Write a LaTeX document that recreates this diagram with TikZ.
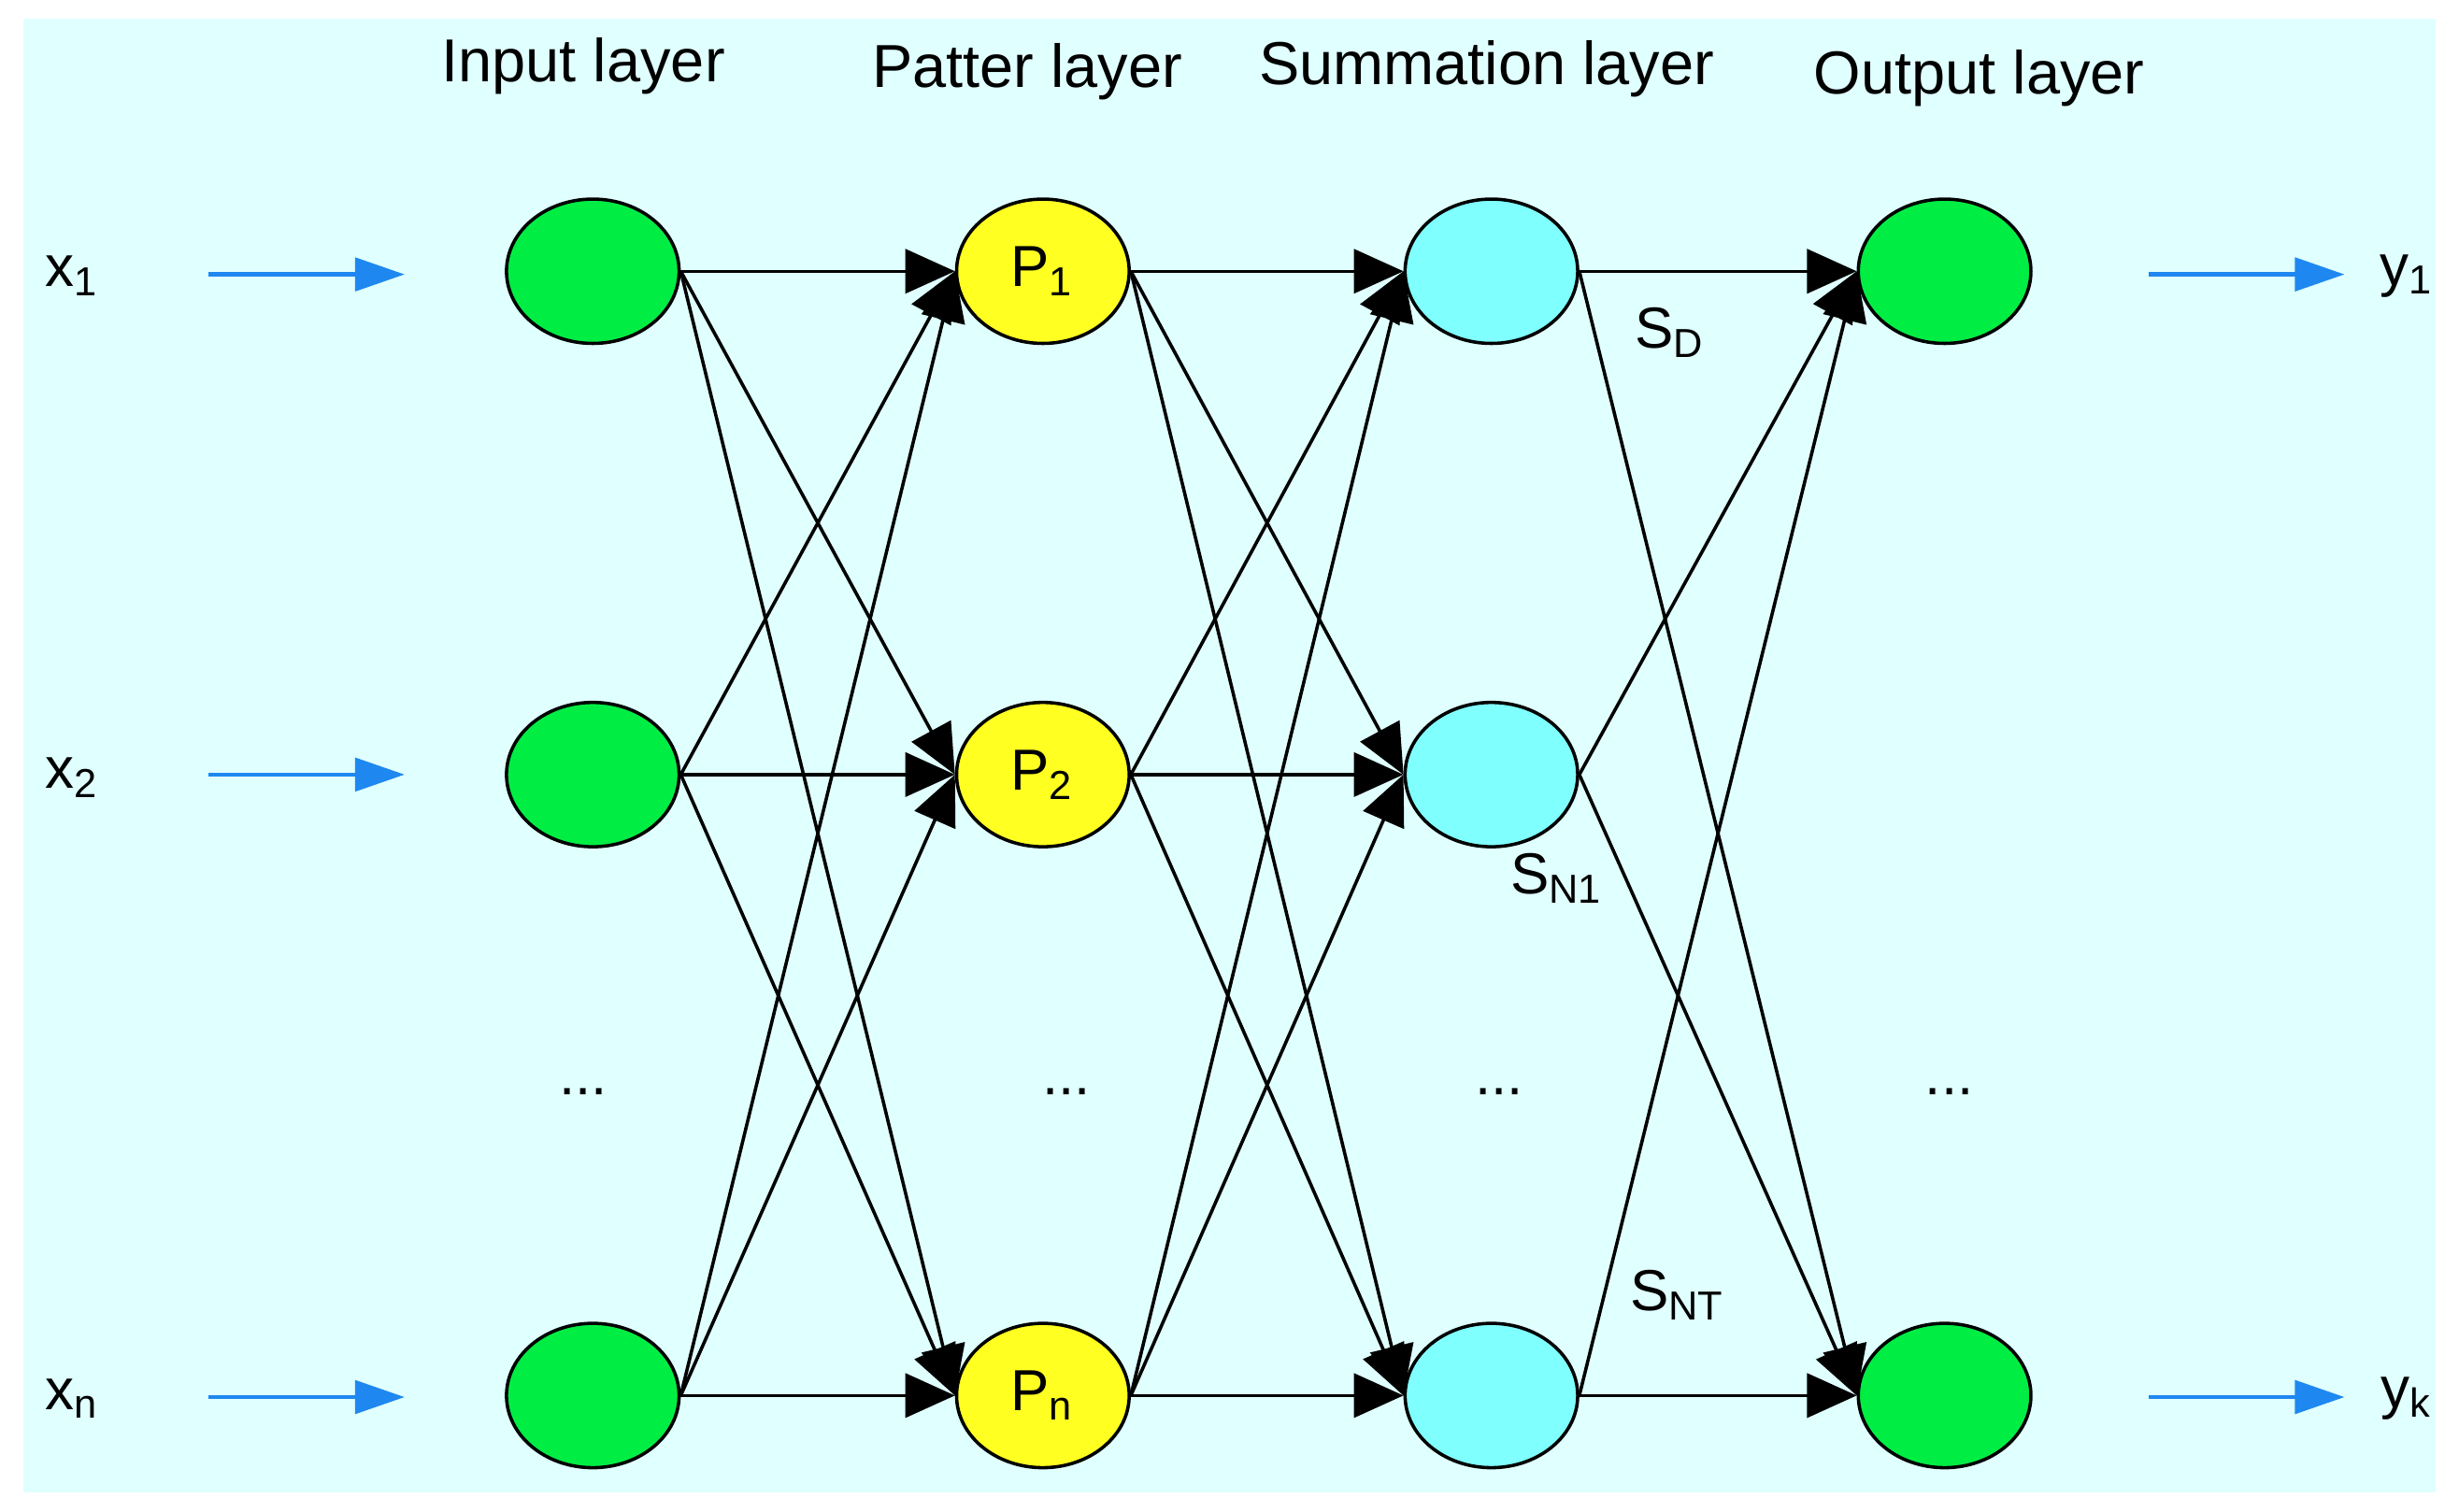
\documentclass[tikz,border=0pt]{standalone}
\usepackage{fontspec}
\setmainfont{Liberation Sans}
\usetikzlibrary{arrows.meta,shapes.geometric}
\definecolor{bg}{HTML}{E0FFFF}
\definecolor{ngreen}{HTML}{00EE44}
\definecolor{nyellow}{HTML}{FFFF22}
\definecolor{ncyan}{HTML}{80FFFF}
\definecolor{arrblue}{HTML}{1E88F0}
\begin{document}
\begin{tikzpicture}[x=0.01cm,y=-0.01cm,
  neur/.style={draw=black,line width=0.6pt,ellipse,minimum width=1.1cm,minimum height=0.92cm,inner sep=0pt,font=\fontsize{10.5}{13}\selectfont},
  conn/.style={line width=0.6pt,-{Triangle[length=9pt,width=8pt]}},
  inarr/.style={arrblue,line width=0.8pt,-{Triangle[length=9pt,width=6pt]}},
  lab/.style={font=\fontsize{10.5}{13}\selectfont},
  title/.style={font=\fontsize{11}{14}\selectfont}]
\useasboundingbox (0,0) rectangle (1568,964);
\fill[white] (0,0) rectangle (1568,964);
\fill[bg] (15,12) rectangle (1553,952);
\node[title] at (372,42) {Input layer};
\node[title] at (655,46) {Patter layer};
\node[title] at (948,44) {Summation layer};
\node[title] at (1262,50) {Output layer};
\foreach \r/\y in {1/173,2/494,3/890}{
  \node[neur,fill=ngreen] (i\r) at (378,\y) {};
  \node[neur,fill=ncyan] (s\r) at (951,\y) {};
}
\node[neur,fill=ngreen] (o1) at (1240,173) {};
\node[neur,fill=ngreen] (o3) at (1240,890) {};
\node[neur,fill=nyellow] (p1) at (665,173) {P\textsubscript{1}};
\node[neur,fill=nyellow] (p2) at (665,494) {P\textsubscript{2}};
\node[neur,fill=nyellow] (p3) at (665,890) {P\textsubscript{n}};
\foreach \a in {1,2,3}{
  \foreach \b in {1,2,3}{
    \draw[conn] (i\a.east) -- (p\b.west);
    \draw[conn] (p\a.east) -- (s\b.west);
  }
  \foreach \b in {1,3}{\draw[conn] (s\a.east) -- (o\b.west);}
}
\foreach \x in {372,680,956,1243}{\node[lab] at (\x,696) {...};}
\node[lab] (x1) at (46,176) {x\textsubscript{1}};
\node[lab] (x2) at (46,496) {x\textsubscript{2}};
\node[lab] (x3) at (46,892) {x\textsubscript{n}};
\node[lab] (y1) at (1535,176) {y\textsubscript{1}};
\node[lab] (y3) at (1535,892) {y\textsubscript{k}};
\foreach \y/\n in {175/1,494/2,891/3}{
  \coordinate (ia\n) at (133,\y); \coordinate (ib\n) at (258,\y);
  \draw[inarr] (ia\n) -- (ib\n);
}
\foreach \y/\n in {175/1,891/3}{
  \coordinate (oa\n) at (1370,\y); \coordinate (ob\n) at (1495,\y);
  \draw[inarr] (oa\n) -- (ob\n);
}
\node[lab] at (1065,212) {S\textsubscript{D}};
\node[lab] at (993,560) {S\textsubscript{N1}};
\node[lab] at (1070,826) {S\textsubscript{NT}};
\end{tikzpicture}
\end{document}
